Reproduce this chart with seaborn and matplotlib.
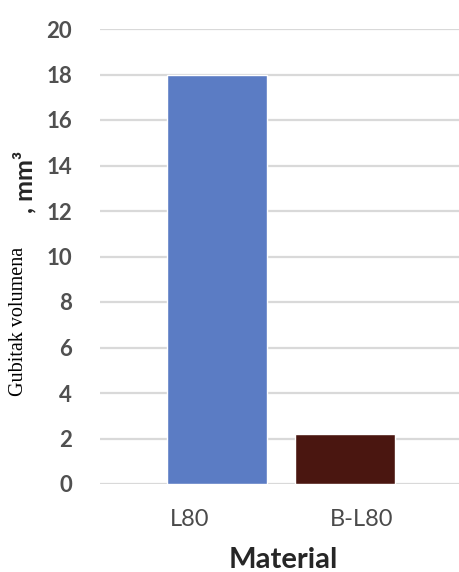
import matplotlib
matplotlib.use("Agg")
import matplotlib.pyplot as plt
import matplotlib.transforms as mtransforms
import pandas as pd
import seaborn as sns

# values
materials = ["L80", "B-L80"]
volume_loss = [18.0, 2.2]
bar_colors = ["#5b7cc4", "#4a1610"]
y_ticks = [0, 2, 4, 6, 8, 10, 12, 14, 16, 18, 20]

data = pd.DataFrame({"Material": materials, "Loss": volume_loss})

sns.set_theme(style="white")
plt.rcParams["font.family"] = ["Lato", "DejaVu Sans"]

fig = plt.figure(figsize=(4.6, 5.72), dpi=100)
ax = fig.add_axes([100 / 460, 88 / 572, 360 / 460, 455 / 572])

sns.barplot(data=data, x="Material", y="Loss", hue="Material",
            palette=bar_colors, width=0.78, saturation=1, legend=False, ax=ax)

ax.set_xlim(-0.914, 1.898)
ax.set_ylim(0, 20)
ax.set_yticks(y_ticks)
ax.set_yticklabels([str(t) for t in y_ticks], fontsize=16, color="#505050", fontweight="bold")
ax.yaxis.grid(True, color="#d9d9d9", linewidth=1.6)
ax.set_axisbelow(True)
ax.tick_params(axis="y", length=0, pad=20)
ax.tick_params(axis="x", length=0, pad=18, labelsize=17, labelcolor="#4a4a4a")
for s in ax.spines.values():
    s.set_visible(False)

# labels sit a bit off the bar centres in the original
shifts = [-0.27, 0.17]
for lab, dx in zip(ax.get_xticklabels(), shifts):
    lab.set_transform(lab.get_transform() + mtransforms.ScaledTranslation(dx, 0, fig.dpi_scale_trans))

ax.set_xlabel("Material", fontsize=21, fontweight="bold", color="#262626")
ax.xaxis.set_label_coords(0.51, -0.138)
ax.set_ylabel("")

fig.text(19 / 460, 1 - 321 / 572, "Gubitak volumena", rotation=90, ha="center", va="center",
         fontsize=14.5, family="Liberation Serif", color="black")
fig.text(25 / 460, 1 - 182 / 572, ", mm³", rotation=90, ha="center", va="center",
         fontsize=18, fontweight="bold", color="#262626")

fig.savefig("out.png", dpi=100)
